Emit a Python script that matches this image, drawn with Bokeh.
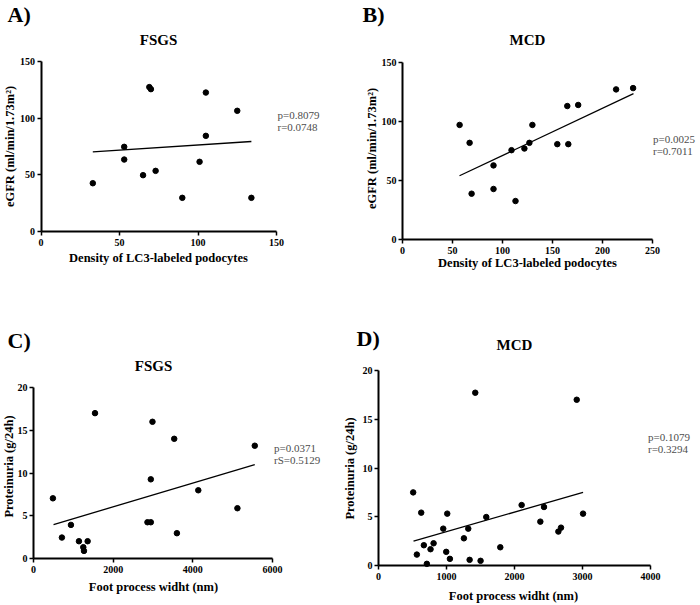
from bokeh.plotting import figure
from bokeh.models import Range1d, Label
from bokeh.layouts import row, column
from bokeh.embed import file_html
from bokeh.resources import INLINE

# ---------------- data ----------------
# A) FSGS: eGFR vs density of LC3-labeled podocytes
a_density = [33, 53, 53, 65, 69, 70, 73, 90, 101, 105, 105, 125, 134]
a_egfr = [42.6, 74.7, 63.5, 49.7, 127.4, 125.6, 53.5, 29.7, 61.5, 122.6, 84.4, 106.5, 29.7]
a_fit_x = [33, 134]
a_fit_y = [70.3, 79.4]
a_xticks = [0, 50, 100, 150]
a_yticks = [0, 50, 100, 150]

# B) MCD: eGFR vs density of LC3-labeled podocytes
b_density = [57.1, 67.1, 69.1, 91.0, 91.0, 109.0, 113.0, 121.9, 126.9, 129.9,
             154.8, 164.8, 165.8, 175.7, 213.6, 230.6]
b_egfr = [97.1, 81.9, 38.8, 62.8, 42.8, 75.7, 32.6, 77.1, 81.9, 97.1,
          80.8, 113.1, 80.8, 114.0, 127.2, 128.3]
b_fit_x = [57, 231]
b_fit_y = [54.0, 123.6]
b_xticks = [0, 50, 100, 150, 200, 250]
b_yticks = [0, 50, 100, 150]

# C) FSGS: proteinuria vs foot process width
c_fpw = [487, 713, 940, 1141, 1250, 1267, 1359, 1544, 2861, 2945, 2945, 2987,
         3533, 3600, 4137, 5119, 5555]
c_prot = [7.04, 2.45, 3.93, 2.02, 1.32, 0.89, 2.02, 17.0, 4.24, 4.24, 9.26, 15.99,
          14.0, 2.96, 7.98, 5.88, 13.19]
c_fit_x = [503, 5555]
c_fit_y = [3.97, 10.97]
c_xticks = [0, 2000, 4000, 6000]
c_yticks = [0, 5, 10, 15, 20]

# D) MCD: proteinuria vs foot process width
d_fpw = [510, 564, 628, 667, 711, 765, 810, 952, 996, 1011, 1050, 1256, 1320,
         1340, 1423, 1501, 1585, 1791, 2105, 2380, 2434, 2645, 2684, 2915, 3008]
d_prot = [7.50, 1.12, 5.42, 2.08, 0.17, 1.67, 2.28, 3.78, 1.40, 5.32, 0.68, 2.79, 3.78,
          0.58, 17.72, 0.48, 4.97, 1.87, 6.20, 4.50, 6.00, 3.48, 3.88, 17.0, 5.32]
d_fit_x = [515, 3008]
d_fit_y = [2.49, 7.50]
d_xticks = [0, 1000, 2000, 3000, 4000]
d_yticks = [0, 5, 10, 15, 20]

FONT = "Liberation Serif"
GREY = "#4d4d4d"
AX = 12.5   # axis title size
ST = 11     # statistics text size


def make_panel(fig_box, axes_box, xticks, yticks, xs, ys, fx, fy, texts):
    # fig_box: figure rectangle on the page; axes_box: where the two axes sit
    fl, ft, fr, fb = fig_box
    pl, pt, pr, pb = axes_box
    x0, x1 = xticks[0], xticks[-1]
    y0, y1 = yticks[0], yticks[-1]
    kx = (x1 - x0) / (pr - pl)
    ky = (y1 - y0) / (pb - pt)
    p = figure(width=fr - fl, height=fb - ft,
               x_range=Range1d(x0 - (pl - fl) * kx, x1 + (fr - pr) * kx),
               y_range=Range1d(y0 - (fb - pb) * ky, y1 + (pt - ft) * ky),
               output_backend="svg", toolbar_location=None, title=None,
               min_border=0)
    p.outline_line_color = None
    p.background_fill_color = "white"
    p.border_fill_color = "white"
    p.xgrid.grid_line_color = None
    p.ygrid.grid_line_color = None
    p.xaxis.ticker = xticks
    p.yaxis.ticker = yticks
    p.xaxis.fixed_location = y0
    p.yaxis.fixed_location = x0
    p.xaxis.bounds = (x0, x1)
    p.yaxis.bounds = (y0, y1)
    for ax in (p.xaxis, p.yaxis):
        ax.axis_line_width = 2
        ax.axis_line_color = "black"
        ax.major_tick_line_width = 1.5
        ax.major_tick_line_color = "black"
        ax.major_tick_in = 0
        ax.major_tick_out = 4
        ax.minor_tick_line_color = None
        ax.major_label_text_font = FONT
        ax.major_label_text_font_style = "bold"
        ax.major_label_text_font_size = "10px"
        ax.major_label_text_color = "black"
    p.xaxis.major_label_standoff = 3
    p.yaxis.major_label_standoff = 2

    p.scatter(xs, ys, size=5.5, color="black")
    p.line(fx, fy, line_color="black", line_width=1.3)

    for (px, py, text, size, bold, align, angle, color) in texts:
        p.add_layout(Label(x=x0 + (px - pl) * kx, y=y0 + (pb - py) * ky,
                           text=text, text_font=FONT, text_font_size=f"{size}px",
                           text_font_style="bold" if bold else "normal",
                           text_align=align, text_baseline="middle",
                           angle=angle, angle_units="deg", text_color=color))
    return p


pA = make_panel((0, 0, 350, 300), (40.5, 61, 276, 231), a_xticks, a_yticks,
                a_density, a_egfr, a_fit_x, a_fit_y, [
                    (158, 39, "FSGS", 15, True, "center", 0, "black"),
                    (7, 13.5, "A)", 22, True, "left", 0, "black"),
                    (9, 146, "eGFR (ml/min/1.73m²)", AX, True, "center", 90, "black"),
                    (158, 257.5, "Density of LC3-labeled podocytes", AX, True, "center", 0, "black"),
                    (277, 114.5, "p=0.8079", ST, False, "left", 0, GREY),
                    (277, 126.5, "r=0.0748", ST, False, "left", 0, GREY),
                ])

pB = make_panel((350, 0, 699, 300), (402, 62, 652, 239), b_xticks, b_yticks,
                b_density, b_egfr, b_fit_x, b_fit_y, [
                    (527, 39, "MCD", 15, True, "center", 0, "black"),
                    (362, 13.5, "B)", 22, True, "left", 0, "black"),
                    (371, 148, "eGFR (ml/min/1.73m²)", AX, True, "center", 90, "black"),
                    (527, 262.5, "Density of LC3-labeled podocytes", AX, True, "center", 0, "black"),
                    (652.5, 138, "p=0.0025", ST, False, "left", 0, GREY),
                    (652.5, 150, "r=0.7011", ST, False, "left", 0, GREY),
                ])

pC = make_panel((0, 300, 341, 604), (33, 387, 272, 558), c_xticks, c_yticks,
                c_fpw, c_prot, c_fit_x, c_fit_y, [
                    (153, 365, "FSGS", 15, True, "center", 0, "black"),
                    (7, 340, "C)", 22, True, "left", 0, "black"),
                    (8, 466, "Proteinuria (g/24h)", AX, True, "center", 90, "black"),
                    (153, 586.5, "Foot process widht (nm)", AX, True, "center", 0, "black"),
                    (273.5, 447.5, "p=0.0371", ST, False, "left", 0, GREY),
                    (273.5, 459.5, "rS=0.5129", ST, False, "left", 0, GREY),
                ])

pD = make_panel((341, 300, 699, 604), (378, 370, 650, 565), d_xticks, d_yticks,
                d_fpw, d_prot, d_fit_x, d_fit_y, [
                    (514, 344, "MCD", 15, True, "center", 0, "black"),
                    (356, 338, "D)", 22, True, "left", 0, "black"),
                    (349, 468, "Proteinuria (g/24h)", AX, True, "center", 90, "black"),
                    (513, 595, "Foot process widht (nm)", AX, True, "center", 0, "black"),
                    (647.5, 436.5, "p=0.1079", ST, False, "left", 0, GREY),
                    (647.5, 448.5, "r=0.3294", ST, False, "left", 0, GREY),
                ])

layout = column(row(pA, pB), row(pC, pD))

open("out.html", "w").write(file_html(layout, INLINE))
